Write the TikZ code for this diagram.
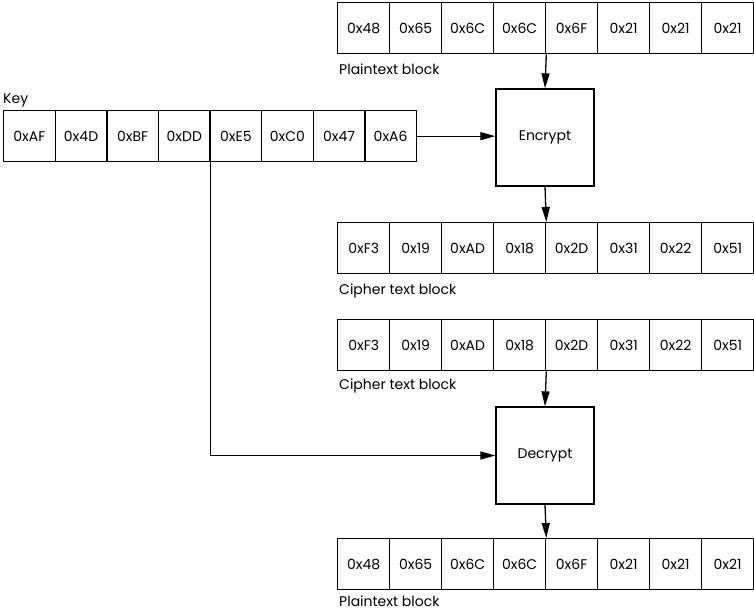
\documentclass[tikz,border=0pt]{standalone}
\usepackage{fontspec}
\setmainfont{Poppins}
\usetikzlibrary{arrows.meta}
\begin{document}
\begin{tikzpicture}[x=1pt,y=-1pt,
  cell/.style={draw,line width=1.3pt,minimum width=52pt,minimum height=51pt,inner sep=0pt,anchor=north west,font=\fontsize{14}{16}\selectfont},
  proc/.style={draw,line width=1.3pt,minimum width=98pt,minimum height=97pt,inner sep=0pt,font=\fontsize{14}{16}\selectfont},
  lbl/.style={anchor=base west,inner sep=0pt,font=\fontsize{14}{16}\selectfont},
  arr/.style={line width=1.3pt,-{Triangle[length=15pt,width=8pt]}},
  ln/.style={line width=1.3pt}]
\useasboundingbox (0,0) rectangle (754,611);
% top plaintext
\foreach \t [count=\i] in {0x48,0x65,0x6C,0x6C,0x6F,0x21,0x21,0x21}
  \node[cell] (pa\i) at ({337+52*(\i-1)},2) {\t};
\node[lbl] (lpa) at (339,74) {Plaintext block};
% key
\node[lbl] (lkey) at (3,103) {Key};
\foreach \t [count=\i] in {0xAF,0x4D,0xBF,0xDD,0xE5,0xC0,0x47,0xA6}
  \node[cell] (k\i) at ({3+51.6*(\i-1)},110) [minimum width=51.6pt] {\t};
% encrypt
\node[proc] (enc) at (545,137.5) {Encrypt};
% cipher 1
\foreach \t [count=\i] in {0xF3,0x19,0xAD,0x18,0x2D,0x31,0x22,0x51}
  \node[cell] (c\i) at ({337+52*(\i-1)},222) {\t};
\node[lbl] (lc) at (339,294) {Cipher text block};
% cipher 2
\foreach \t [count=\i] in {0xF3,0x19,0xAD,0x18,0x2D,0x31,0x22,0x51}
  \node[cell] (d\i) at ({337+52*(\i-1)},319) {\t};
\node[lbl] (ld) at (339,389) {Cipher text block};
% decrypt
\node[proc] (dec) at (545,455.5) {Decrypt};
% bottom plaintext
\foreach \t [count=\i] in {0x48,0x65,0x6C,0x6C,0x6F,0x21,0x21,0x21}
  \node[cell] (q\i) at ({337+52*(\i-1)},538) {\t};
\node[lbl] (lq) at (339,606) {Plaintext block};
% connectors
\draw[arr] (pa4.south east) -- (enc.north);
\draw[arr] (enc.south) -- (c4.north east);
\draw[arr] (d4.south east) -- (dec.north);
\draw[arr] (dec.south) -- (q4.north east);
\draw[arr] (k8.east) -- (k8.east -| enc.west);
\draw[arr] (k4.south east) |- (dec.west);
\end{tikzpicture}
\end{document}
